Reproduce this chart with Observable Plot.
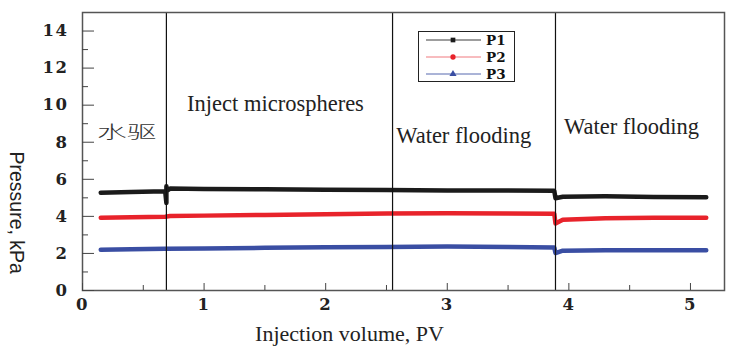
<!DOCTYPE html>
<html>
<head>
<meta charset="utf-8">
<script src="https://cdn.jsdelivr.net/npm/d3@7"></script>
<script src="https://cdn.jsdelivr.net/npm/@observablehq/plot@0.6"></script>
<style>
  html, body { margin: 0; padding: 0; background: #fff; }
  #wrap { position: relative; width: 741px; height: 351px; }
  #legend { position: absolute; left: 418px; top: 31px; width: 97px; height: 51px;
    border: 1px solid #222; background: #fff; box-sizing: border-box; }
  .tk text { letter-spacing: 1.5px; }
</style>
</head>
<body>
<div id="wrap"><div id="chart"></div><div id="legend"></div></div>
<script>
// Series values (x = injection volume PV, y = pressure kPa)
const p1X = [0.15, 0.4, 0.68, 0.69, 0.69, 0.69, 0.72, 1.0, 1.5, 2.0, 2.5, 3.0, 3.5, 3.88, 3.89, 3.95, 4.3, 4.7, 5.13];
const p1Y = [5.28, 5.32, 5.36, 4.72, 5.62, 5.36, 5.5, 5.48, 5.46, 5.44, 5.42, 5.4, 5.39, 5.38, 4.98, 5.06, 5.08, 5.05, 5.03];
const p2X = [0.15, 0.4, 0.68, 0.72, 1.0, 1.5, 2.0, 2.5, 3.0, 3.5, 3.88, 3.89, 3.95, 4.3, 4.7, 5.13];
const p2Y = [3.93, 3.95, 3.98, 4.02, 4.04, 4.08, 4.12, 4.15, 4.17, 4.16, 4.14, 3.62, 3.82, 3.9, 3.92, 3.92];
const p3X = [0.15, 0.4, 0.68, 1.0, 1.5, 2.0, 2.5, 3.0, 3.5, 3.88, 3.89, 3.95, 4.3, 4.7, 5.13];
const p3Y = [2.2, 2.22, 2.25, 2.27, 2.3, 2.33, 2.35, 2.37, 2.35, 2.32, 2.02, 2.15, 2.17, 2.17, 2.17];
const seriesNames = ["P1", "P2", "P3"];
const seriesColors = ["#1b1b1b", "#e8232b", "#3a4ea3"];
const stageBounds = [0.69, 2.55, 3.89];
const stageLabels = ["水驱", "Inject microspheres", "Water flooding", "Water flooding"];
const stageLabelX = [0.12, 0.86, 2.58, 3.96];
const stageLabelY = [8.5, 10.07, 8.35, 8.83];
const xTicks = [0, 1, 2, 3, 4, 5];
const xMinor = [0.5, 1.5, 2.5, 3.5, 4.5];
const yTicks = [0, 2, 4, 6, 8, 10, 12, 14];
const yMinor = [1, 3, 5, 7, 9, 11, 13];

const rows = [];
[[p1X, p1Y], [p2X, p2Y], [p3X, p3Y]].forEach(([xs, ys], i) => {
  xs.forEach((x, j) => rows.push({series: seriesNames[i], x, y: ys[j]}));
});
const notes = stageLabels.map((t, i) => ({t, x: stageLabelX[i], y: stageLabelY[i], cjk: /[\u4e00-\u9fff]/.test(t)}));

const tickFont = {fontFamily: "DejaVu Serif", fontWeight: "bold", fontSize: 16.5, fill: "#222"};

const chart = Plot.plot({
  width: 741, height: 351,
  marginLeft: 82, marginRight: 17, marginTop: 12, marginBottom: 61,
  style: {background: "#fff", overflow: "visible"},
  x: {domain: [0, 5.28]},
  y: {domain: [0, 15]},
  color: {domain: seriesNames, range: seriesColors},
  marks: [
    Plot.line(rows, {x: "x", y: "y", z: "series", stroke: "series", strokeWidth: 4.5, strokeLinejoin: "round"}),
    Plot.ruleX(stageBounds, {stroke: "#111", strokeWidth: 1.2}),
    Plot.frame({stroke: "#555", strokeWidth: 1.5}),
    // inward ticks
    Plot.axisX({ticks: xTicks, tickSize: -7, tickFormat: () => "", stroke: "#444", label: null}),
    Plot.axisX({ticks: xMinor, tickSize: -5, tickFormat: () => "", stroke: "#444", label: null}),
    Plot.axisY({ticks: yTicks, tickSize: -12, tickFormat: () => "", stroke: "#444", label: null}),
    Plot.axisY({ticks: yMinor, tickSize: -6, tickFormat: () => "", stroke: "#444", label: null}),
    // tick labels
    Plot.axisX({ticks: xTicks, tickSize: 0, tickPadding: 8, label: null, tickFormat: d3.format("d"), className: "tk", ...tickFont}),
    Plot.axisY({ticks: yTicks, tickSize: 0, tickPadding: 14, label: null, tickFormat: d3.format("d"), className: "tk", ...tickFont}),
    // stage annotations
    Plot.text(notes.filter(d => !d.cjk), {x: "x", y: "y", text: "t", textAnchor: "start",
      fontFamily: "Liberation Serif", fontSize: 22.5, fill: "#222"}),
    Plot.text(notes.filter(d => d.cjk), {x: "x", y: "y", text: "t", textAnchor: "start", className: "cjk",
      fontFamily: "Noto Sans CJK SC", fontSize: 17, fontWeight: 300, fill: "#333"}),
    // axis titles
    Plot.text(["Pressure, kPa"], {frameAnchor: "left", dx: -66, rotate: 90,
      fontFamily: "Liberation Sans", fontSize: 19.5, fill: "#222"}),
    Plot.text(["Injection volume, PV"], {frameAnchor: "bottom", dx: -54, dy: 50,
      fontFamily: "Liberation Serif", fontSize: 22, fill: "#222"})
  ]
});
document.getElementById("chart").appendChild(chart);

// widen the CJK label horizontally like the reference
d3.select(chart).selectAll(".cjk text").each(function () {
  const x = +this.getAttribute("x") || 0;
  const y = +this.getAttribute("y") || 0;
  const t = this.getAttribute("transform") || "";
  this.setAttribute("transform", `${t} translate(${x},${y}) scale(1.75,1) translate(${-x},${-y})`);
});

// Legend (inside the plot area, top)
const markerShapes = ["square", "circle", "triangle"];
const lg = d3.select("#legend").append("svg").attr("width", 95).attr("height", 49);
seriesNames.forEach((name, i) => {
  const y = 8 + i * 17;
  const g = lg.append("g").attr("transform", `translate(0,${y})`);
  g.append("line").attr("x1", 7).attr("x2", 62).attr("y1", 0).attr("y2", 0)
    .attr("stroke", seriesColors[i]).attr("stroke-width", 1).attr("opacity", i === 1 ? 0.6 : 0.85);
  const sym = markerShapes[i] === "square" ? d3.symbolSquare : markerShapes[i] === "circle" ? d3.symbolCircle : d3.symbolTriangle;
  g.append("path").attr("d", d3.symbol(sym, 22)()).attr("transform", "translate(34,0)").attr("fill", seriesColors[i]);
  g.append("text").attr("x", 67).attr("y", 0).attr("dy", "0.36em").text(name)
    .attr("font-family", "DejaVu Serif").attr("font-weight", "bold").attr("font-size", 13.5).attr("fill", "#111");
});
</script>
</body>
</html>
